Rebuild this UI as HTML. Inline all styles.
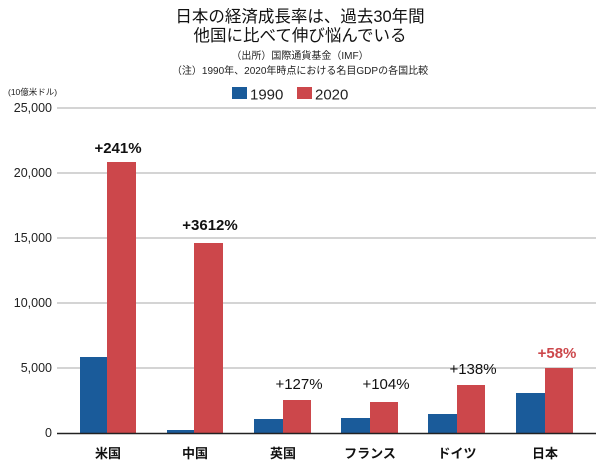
<!DOCTYPE html>
<html><head><meta charset="utf-8"><style>
body{margin:0;background:#fff;}
svg text{font-family:"Liberation Sans","Noto Sans CJK JP",sans-serif;}
</style></head><body>
<svg width="600" height="470" xmlns="http://www.w3.org/2000/svg">
<rect width="600" height="470" fill="#fff"/>
<text x="300" y="22" text-anchor="middle" font-size="16.5" fill="#111">日本の経済成長率は、過去30年間</text>
<text x="300" y="41" text-anchor="middle" font-size="16.5" fill="#111">他国に比べて伸び悩んでいる</text>
<text x="300" y="59" text-anchor="middle" font-size="10" fill="#222">（出所）国際通貨基金（IMF）</text>
<text x="300" y="74" text-anchor="middle" font-size="10" fill="#222">（注）1990年、2020年時点における名目GDPの各国比較</text>
<text x="8" y="95" font-size="8.5" fill="#222">(10億米ドル)</text>
<rect x="232" y="87" width="15" height="12" fill="#1a5b9a"/>
<text x="250" y="99.5" font-size="15" fill="#222">1990</text>
<rect x="297" y="87" width="15" height="12" fill="#cc474b"/>
<text x="315" y="99.5" font-size="15" fill="#222">2020</text>
<g stroke="#aaa" stroke-width="1">
<line x1="57" y1="108" x2="596" y2="108"/><line x1="57" y1="173" x2="596" y2="173"/>
<line x1="57" y1="238" x2="596" y2="238"/><line x1="57" y1="303" x2="596" y2="303"/>
<line x1="57" y1="368" x2="596" y2="368"/></g>
<g font-size="12.5" fill="#222" text-anchor="end">
<text x="52" y="112">25,000</text><text x="52" y="177">20,000</text><text x="52" y="242">15,000</text>
<text x="52" y="307">10,000</text><text x="52" y="372">5,000</text><text x="52" y="437">0</text></g>
<g fill="#1a5b9a">
<rect x="80" y="357" width="27" height="76"/><rect x="167" y="430" width="27" height="3"/>
<rect x="254" y="419" width="29" height="14"/><rect x="341" y="418" width="29" height="15"/>
<rect x="428" y="414" width="29" height="19"/><rect x="516" y="393" width="29" height="40"/></g>
<g fill="#cc474b">
<rect x="107" y="162" width="29" height="271"/><rect x="194" y="243" width="29" height="190"/>
<rect x="283" y="400" width="28" height="33"/><rect x="370" y="402" width="28" height="31"/>
<rect x="457" y="385" width="28" height="48"/><rect x="545" y="368" width="28" height="65"/></g>
<line x1="57" y1="433.5" x2="596" y2="433.5" stroke="#222" stroke-width="1.5"/>
<g font-size="15" font-weight="bold" fill="#111" text-anchor="middle">
<text x="118" y="153">+241%</text><text x="210" y="230">+3612%</text>
<text x="299" y="389" font-weight="normal">+127%</text>
<text x="386" y="389" font-weight="normal">+104%</text>
<text x="473" y="374" font-weight="normal">+138%</text>
<text x="557" y="358" fill="#cc474b">+58%</text></g>
<g font-size="13" font-weight="bold" fill="#111" text-anchor="middle">
<text x="108" y="458">米国</text><text x="195" y="458">中国</text><text x="283" y="458">英国</text>
<text x="370" y="458">フランス</text><text x="457" y="458">ドイツ</text><text x="545" y="458">日本</text></g>
</svg>
</body></html>
